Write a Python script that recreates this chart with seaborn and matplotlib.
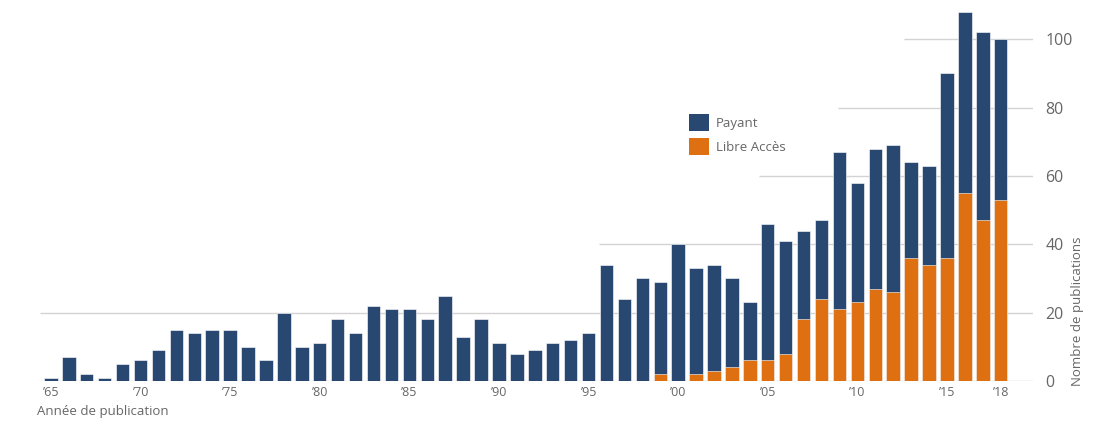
import numpy as np
import pandas as pd
import matplotlib
matplotlib.use("Agg")
import matplotlib.pyplot as plt
from matplotlib.patches import Patch
import seaborn as sns

# ---- data ----
years = list(range(1965, 2019))
total = [1, 7, 2, 1, 5, 6, 9, 15, 14, 15,
         15, 10, 6, 20, 10, 11, 18, 14, 22, 21,
         21, 18, 25, 13, 18, 11, 8, 9, 11, 12,
         14, 34, 24, 30, 29, 40, 33, 34, 30, 23,
         46, 41, 44, 47, 67, 58, 68, 69, 64, 63,
         90, 108, 102, 100]
libre = [0] * 34 + [2, 0, 2, 3, 4, 6, 6, 8, 18, 24,
                    21, 23, 27, 26, 36, 34, 36, 55, 47, 53]
payant = [t - l for t, l in zip(total, libre)]
series_names = ["Payant", "Libre Accès"]
tick_years = [1965, 1970, 1975, 1980, 1985, 1990, 1995, 2000, 2005, 2010, 2015, 2018]
tick_labels = ["\u201965", "\u201970", "\u201975", "\u201980", "\u201985", "\u201990",
               "\u201995", "\u201900", "\u201905", "\u201910", "\u201915", "\u201918"]
y_ticks = [0, 20, 40, 60, 80, 100]
grid_start = [1964.4, 1964.4, 1995.6, 2004.5, 2008.9, 2012.6]

NAVY = "#284871"
ORANGE = "#df7011"
GREY = "#666666"

sns.set_style("white")
plt.rcParams['font.family'] = ['Open Sans', 'DejaVu Sans']

df = pd.DataFrame({"year": years, "total": [p + l for p, l in zip(payant, libre)],
                   "libre": libre})

fig = plt.figure(figsize=(11, 4.3), dpi=100)
ax = fig.add_axes([40 / 1100, (430 - 381) / 430, (1033 - 40) / 1100, (381 - 5) / 430])

xmin, xmax = 1964.39, 2019.8
for yv, xs in zip(y_ticks, grid_start):
    ax.hlines(yv, xs, xmax, color="#d3d3d3", linewidth=1, zorder=0)

sns.barplot(data=df, x="year", y="total", native_scale=True, color=NAVY,
            saturation=1, width=0.75, edgecolor="white", linewidth=0.4, ax=ax, zorder=2)
sns.barplot(data=df, x="year", y="libre", native_scale=True, color=ORANGE,
            saturation=1, width=0.75, edgecolor="white", linewidth=0.4, ax=ax, zorder=3)

ax.set_xlim(xmin, xmax)
ax.set_ylim(0, 110)
ax.set_xticks(tick_years)
ax.set_xticklabels(tick_labels, fontsize=9, color=GREY)
ax.yaxis.tick_right()
ax.set_yticks(y_ticks)
ax.set_yticklabels([str(v) for v in y_ticks], fontsize=11.5, color=GREY)
ax.tick_params(axis="both", length=0)
ax.tick_params(axis="y", pad=9)
ax.tick_params(axis="x", pad=3.5)
ax.set_xlabel("")
ax.set_ylabel("")
for s in ax.spines.values():
    s.set_visible(False)

fig.text(37 / 1100, 1 - 412 / 430, "Année de publication", fontsize=9.5, color=GREY,
         ha="left", va="center")
fig.text(1077 / 1100, 1 - 386 / 430, "Nombre de publications", fontsize=9.5, color=GREY,
         rotation=90, ha="center", va="bottom")

handles = [Patch(facecolor=NAVY, edgecolor="none"), Patch(facecolor=ORANGE, edgecolor="none")]
fig.legend(handles, series_names, loc="upper left",
           bbox_to_anchor=(689 / 1100, 1 - 114 / 430), frameon=False,
           fontsize=9.5, handlelength=1.55, handleheight=1.55, handletextpad=0.5,
           labelspacing=0.6, borderpad=0, borderaxespad=0, labelcolor=GREY)

fig.savefig("out.png", dpi=100)
